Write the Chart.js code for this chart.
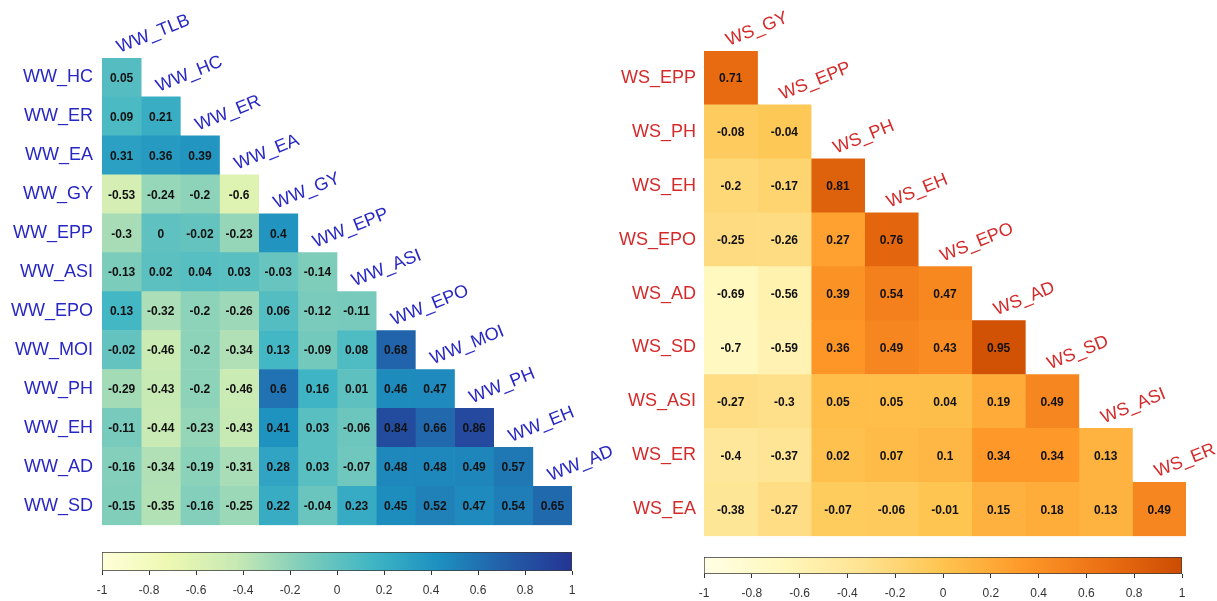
<!DOCTYPE html>
<html>
<head>
<meta charset="utf-8">
<script src="https://cdn.jsdelivr.net/npm/chart.js@4.4.0/dist/chart.umd.min.js"></script>
<style>
  body { margin: 0; background: #fff; }
  #wrap { position: relative; width: 1217px; height: 601px; overflow: hidden; }
  canvas { position: absolute; }
</style>
</head>
<body>
<div id="wrap">
  <canvas id="ww" width="625" height="545" style="left:0px;top:0px"></canvas>
  <canvas id="wwBar" width="600" height="56" style="left:0px;top:545px"></canvas>
  <canvas id="ws" width="617" height="555" style="left:600px;top:0px"></canvas>
  <canvas id="wsBar" width="617" height="51" style="left:600px;top:550px"></canvas>
</div>
<script>
// left panel (WW)
const wwRows = ['WW_HC', 'WW_ER', 'WW_EA', 'WW_GY', 'WW_EPP', 'WW_ASI', 'WW_EPO', 'WW_MOI', 'WW_PH', 'WW_EH', 'WW_AD', 'WW_SD'];
const wwCols = ['WW_TLB', 'WW_HC', 'WW_ER', 'WW_EA', 'WW_GY', 'WW_EPP', 'WW_ASI', 'WW_EPO', 'WW_MOI', 'WW_PH', 'WW_EH', 'WW_AD'];
const wwValues = [
    [0.05],
    [0.09, 0.21],
    [0.31, 0.36, 0.39],
    [-0.53, -0.24, -0.2, -0.6],
    [-0.3, 0, -0.02, -0.23, 0.4],
    [-0.13, 0.02, 0.04, 0.03, -0.03, -0.14],
    [0.13, -0.32, -0.2, -0.26, 0.06, -0.12, -0.11],
    [-0.02, -0.46, -0.2, -0.34, 0.13, -0.09, 0.08, 0.68],
    [-0.29, -0.43, -0.2, -0.46, 0.6, 0.16, 0.01, 0.46, 0.47],
    [-0.11, -0.44, -0.23, -0.43, 0.41, 0.03, -0.06, 0.84, 0.66, 0.86],
    [-0.16, -0.34, -0.19, -0.31, 0.28, 0.03, -0.07, 0.48, 0.48, 0.49, 0.57],
    [-0.15, -0.35, -0.16, -0.25, 0.22, -0.04, 0.23, 0.45, 0.52, 0.47, 0.54, 0.65]
];

// right panel (WS)
const wsRows = ['WS_EPP', 'WS_PH', 'WS_EH', 'WS_EPO', 'WS_AD', 'WS_SD', 'WS_ASI', 'WS_ER', 'WS_EA'];
const wsCols = ['WS_GY', 'WS_EPP', 'WS_PH', 'WS_EH', 'WS_EPO', 'WS_AD', 'WS_SD', 'WS_ASI', 'WS_ER'];
const wsValues = [
    [0.71],
    [-0.08, -0.04],
    [-0.2, -0.17, 0.81],
    [-0.25, -0.26, 0.27, 0.76],
    [-0.69, -0.56, 0.39, 0.54, 0.47],
    [-0.7, -0.59, 0.36, 0.49, 0.43, 0.95],
    [-0.27, -0.3, 0.05, 0.05, 0.04, 0.19, 0.49],
    [-0.4, -0.37, 0.02, 0.07, 0.1, 0.34, 0.34, 0.13],
    [-0.38, -0.27, -0.07, -0.06, -0.01, 0.15, 0.18, 0.13, 0.49]
];

const colorbarTicks = [-1, -0.8, -0.6, -0.4, -0.2, 0, 0.2, 0.4, 0.6, 0.8, 1];

const bluePalette = ['#ffffd9', '#edf8b1', '#c7e9b4', '#7fcdbb', '#41b6c4', '#1d91c0', '#225ea8', '#253494'];
const orangePalette = ['#ffffe5', '#fff7bc', '#fee391', '#fec44f', '#fe9929', '#ec7014', '#cc4c02'];

Chart.defaults.font.family = '"Liberation Sans", Arial, sans-serif';

function hexToRgb(h) {
    const n = parseInt(h.slice(1), 16);
    return [(n >> 16) & 255, (n >> 8) & 255, n & 255];
}

// map a correlation (-1..1) onto the palette
function colorAt(palette, v) {
    const t = Math.min(Math.max((v + 1) / 2, 0), 1) * (palette.length - 1);
    const i = Math.min(Math.floor(t), palette.length - 2);
    const f = t - i;
    const a = hexToRgb(palette[i]), b = hexToRgb(palette[i + 1]);
    const c = a.map((x, k) => Math.round(x + (b[k] - x) * f));
    return 'rgb(' + c.join(',') + ')';
}

function drawHeatmap(id, rows, cols, values, palette, labelColor, opts) {
    const datasets = cols.map((c, j) => ({
        label: c,
        data: rows.map((r, i) => (j < values[i].length ? [j - 0.5, j + 0.5] : null)),
        backgroundColor: ctx => colorAt(palette, values[ctx.dataIndex]?.[j] ?? 0),
        borderWidth: 0,
        barPercentage: 1,
        categoryPercentage: 1,
        grouped: false
    }));

    // numbers inside the cells
    const cellText = {
        id: 'cellText',
        afterDatasetsDraw(chart) {
            const ctx = chart.ctx;
            ctx.save();
            ctx.font = 'bold 12px "Liberation Sans", Arial, sans-serif';
            ctx.fillStyle = '#111';
            ctx.textAlign = 'center';
            ctx.textBaseline = 'middle';
            cols.forEach((c, j) => {
                chart.getDatasetMeta(j).data.forEach((el, i) => {
                    if (j >= values[i].length) return;
                    const p = el.getCenterPoint();
                    ctx.fillText(String(values[i][j]), p.x, p.y + 1);
                });
            });
            ctx.restore();
        }
    };

    // slanted column names along the diagonal
    const colLabels = {
        id: 'colLabels',
        afterDraw(chart) {
            const ctx = chart.ctx;
            ctx.save();
            ctx.font = '18px "Liberation Sans", Arial, sans-serif';
            ctx.fillStyle = labelColor;
            ctx.textAlign = 'left';
            ctx.textBaseline = 'alphabetic';
            cols.forEach((c, j) => {
                const el = chart.getDatasetMeta(j).data[j];
                const cx = (el.x + el.base) / 2;
                const top = el.y - el.height / 2;
                ctx.save();
                ctx.translate(cx - 2, top - 5);
                ctx.rotate(-22 * Math.PI / 180);
                ctx.fillText(c, 0, 0);
                ctx.restore();
            });
            ctx.restore();
        }
    };

    new Chart(document.getElementById(id), {
        type: 'bar',
        data: { labels: rows, datasets: datasets },
        options: {
            indexAxis: 'y',
            responsive: false,
            animation: false,
            layout: { padding: opts.padding },
            plugins: { legend: { display: false }, tooltip: { enabled: false } },
            scales: {
                x: { type: 'linear', min: -0.5, max: cols.length - 0.5, display: false },
                y: {
                    grid: { display: false, drawTicks: false },
                    border: { display: false },
                    ticks: { color: labelColor, font: { size: 18 }, padding: opts.labelPad },
                    afterFit: s => { s.width = opts.axisWidth; }
                }
            }
        },
        plugins: [cellText, colLabels]
    });
}

function drawColorbar(id, palette, opts) {
    new Chart(document.getElementById(id), {
        type: 'bar',
        data: {
            labels: [''],
            datasets: [{
                data: [[-1, 1]],
                backgroundColor: ctx => {
                    const area = ctx.chart.chartArea;
                    if (!area) return palette[0];
                    const g = ctx.chart.ctx.createLinearGradient(area.left, 0, area.right, 0);
                    palette.forEach((c, k) => g.addColorStop(k / (palette.length - 1), c));
                    return g;
                },
                borderColor: '#3a3a3a',
                borderWidth: 1,
                borderSkipped: false,
                barPercentage: 1,
                categoryPercentage: 1
            }]
        },
        options: {
            indexAxis: 'y',
            responsive: false,
            animation: false,
            layout: { padding: opts.padding },
            plugins: { legend: { display: false }, tooltip: { enabled: false } },
            scales: {
                y: { display: false },
                x: {
                    type: 'linear', min: -1, max: 1,
                    afterBuildTicks: s => { s.ticks = colorbarTicks.map(v => ({ value: v })); },
                    afterFit: s => { s.height = opts.axisHeight; },
                    grid: { drawOnChartArea: false, tickLength: 4, color: '#333' },
                    border: { display: false },
                    ticks: {
                        color: '#333', font: { size: 12 }, padding: 8,
                        autoSkip: false, maxRotation: 0,
                        callback: v => String(v)
                    }
                }
            }
        }
    });
}

window.onload = function() {
    drawHeatmap('ww', wwRows, wwCols, wwValues, bluePalette, '#2727c4',
        { padding: { left: 0, top: 58, right: 53, bottom: 7 }, axisWidth: 102, labelPad: 9 });
    drawHeatmap('ws', wsRows, wsCols, wsValues, orangePalette, '#d42a2a',
        { padding: { left: 0, top: 51, right: 31, bottom: 7 }, axisWidth: 104, labelPad: 8 });
    drawColorbar('wwBar', bluePalette, { padding: { left: 102, right: 28, top: 7, bottom: 0 }, axisHeight: 30 });
    drawColorbar('wsBar', orangePalette, { padding: { left: 104, right: 35, top: 7, bottom: 0 }, axisHeight: 27 });
};
</script>
</body>
</html>
